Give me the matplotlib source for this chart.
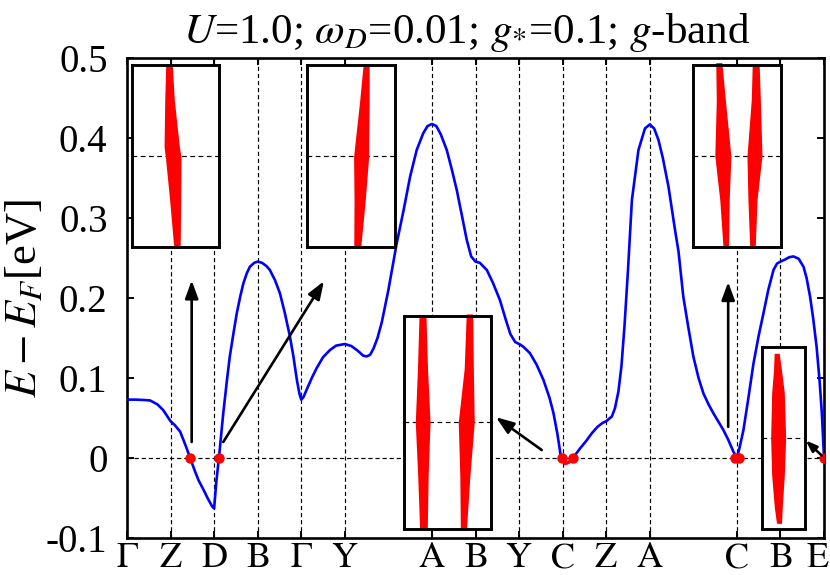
import matplotlib
matplotlib.use("Agg")
import matplotlib.pyplot as plt
from matplotlib.transforms import ScaledTranslation

plt.rcParams['font.family'] = ['Liberation Serif', 'DejaVu Serif']
plt.rcParams['mathtext.fontset'] = 'stix'
plt.rcParams['axes.unicode_minus'] = False

# --- datos: eje k (posiciones de los puntos de alta simetria) ---
tick_pos = [0, 1, 2, 3, 4, 5, 7, 8, 9, 10, 11, 12, 14, 15, 16]
tick_lab = [r'\Gamma', 'Z', 'D', 'B', r'\Gamma', 'Y', 'A', 'B', 'Y', 'C', 'Z', 'A', 'C', 'B', 'E']

# banda g
k = [0.0, 0.2, 0.4, 0.53, 0.7, 0.83, 0.95, 1.0, 1.1, 1.22, 1.35, 1.45, 1.55, 1.64,
     1.75, 1.85, 1.95, 2.0, 2.05, 2.11, 2.21, 2.3, 2.36, 2.45, 2.52, 2.6, 2.67, 2.75,
     2.82, 2.92, 3.0, 3.1, 3.2, 3.28, 3.4, 3.51, 3.62, 3.74, 3.82, 3.9, 3.96, 4.0,
     4.05, 4.12, 4.25, 4.35, 4.5, 4.66, 4.8, 4.9, 5.0, 5.15, 5.3, 5.42, 5.5, 5.58,
     5.66, 5.75, 5.85, 6.0, 6.19, 6.35, 6.5, 6.65, 6.8, 6.9, 7.0, 7.1, 7.2, 7.34,
     7.45, 7.57, 7.7, 7.8, 7.9, 8.0, 8.1, 8.26, 8.4, 8.56, 8.7, 8.8, 8.91, 9.02,
     9.1, 9.25, 9.4, 9.56, 9.7, 9.79, 9.88, 9.96, 10.0, 10.06, 10.15, 10.25, 10.4,
     10.55, 10.67, 10.8, 10.92, 11.0, 11.13, 11.2, 11.28, 11.35, 11.42, 11.5,
     11.59, 11.74, 11.89, 12.0, 12.1, 12.2, 12.3, 12.43, 12.58, 12.66, 12.77,
     12.88, 13.0, 13.12, 13.23, 13.35, 13.46, 13.58, 13.69, 13.8, 13.92, 14.0,
     14.07, 14.15, 14.25, 14.38, 14.5, 14.61, 14.72, 14.84, 14.92, 15.0, 15.1,
     15.2, 15.3, 15.42, 15.53, 15.6, 15.68, 15.75, 15.83, 15.9, 15.95, 16.0]
E = [0.073, 0.073, 0.0725, 0.072, 0.067, 0.06, 0.05, 0.046, 0.041, 0.033, 0.015,
     0.0, -0.015, -0.0275, -0.039, -0.05, -0.06, -0.063, -0.03, 0.0, 0.056, 0.10,
     0.127, 0.158, 0.181, 0.202, 0.218, 0.231, 0.239, 0.244, 0.2455, 0.244, 0.24,
     0.235, 0.222, 0.206, 0.182, 0.152, 0.127, 0.0975, 0.08, 0.073, 0.076, 0.085,
     0.101, 0.112, 0.126, 0.135, 0.1405, 0.1415, 0.1425, 0.140, 0.134, 0.128,
     0.127, 0.129, 0.137, 0.15, 0.17, 0.21, 0.268, 0.31, 0.352, 0.385, 0.406,
     0.415, 0.4175, 0.415, 0.405, 0.385, 0.362, 0.335, 0.30, 0.2725, 0.252,
     0.2455, 0.244, 0.235, 0.219, 0.1975, 0.172, 0.155, 0.145, 0.142, 0.139,
     0.131, 0.117, 0.0975, 0.075, 0.056, 0.03, 0.0016, -0.003, -0.007, -0.005,
     0.001, 0.012, 0.022, 0.031, 0.039, 0.044, 0.046, 0.052, 0.062, 0.083, 0.115,
     0.165, 0.235, 0.3225, 0.385, 0.412, 0.417, 0.412, 0.3975, 0.375, 0.339,
     0.285, 0.258, 0.2016, 0.165, 0.127, 0.1, 0.081, 0.067, 0.056, 0.045, 0.035,
     0.023, 0.008, 0.0, 0.015, 0.035, 0.07, 0.118, 0.153, 0.181, 0.21, 0.235,
     0.243, 0.2455, 0.248, 0.251, 0.252, 0.249, 0.239, 0.225, 0.2016, 0.175,
     0.139, 0.095, 0.056, 0.0]

# tramo de la banda pegado al nivel de Fermi en C (en rojo)
tramo_rojo = (9.95, 10.26)

# cruces con el nivel de Fermi
cruce_k = [1.45, 2.11, 9.98, 10.23, 13.96, 14.04, 16.0]
cruce_E = [0, 0, 0, 0, 0, 0, 0]

# flechas: (cola_k, cola_E, punta_k, punta_E)
flechas = [
    (1.485, 0.020, 1.485, 0.222),
    (2.21, 0.020, 4.52, 0.221),
    (9.52, 0.010, 8.47, 0.051),
    (13.80, 0.039, 13.80, 0.220),
    (15.95, 0.003, 15.58, 0.022),
]

# recuadros: posicion en fraccion de figura y bandas (y, centro, semiancho)
recuadro_pos = [
    [0.1594, 0.571, 0.1048, 0.316],
    [0.3702, 0.571, 0.1057, 0.316],
    [0.4867, 0.080, 0.1048, 0.371],
    [0.8353, 0.571, 0.1053, 0.316],
    [0.9177, 0.080, 0.0522, 0.316],
]
banda_y = [
    [[1.0, 0.807, 0.55, 0.495, 0.257, -0.01]],
    [[1.0, 0.807, 0.55, 0.495, 0.257, 0.0]],
    [[1.0, 0.75, 0.5, 0.25, 0.0], [1.008, 0.75, 0.5, 0.25, -0.005]],
    [[1.013, 0.807, 0.5, 0.257, -0.01], [1.0, 0.807, 0.5, 0.257, -0.01]],
    [[0.967, 0.875, 0.75, 0.5, 0.3, 0.12, 0.031]],
]
banda_c = [
    [[0.422, 0.428, 0.453, 0.47, 0.493, 0.514]],
    [[0.671, 0.652, 0.62, 0.614, 0.597, 0.57]],
    [[0.213, 0.213, 0.215, 0.218, 0.224], [0.753, 0.745, 0.716, 0.70, 0.683]],
    [[0.292, 0.315, 0.338, 0.357, 0.372], [0.714, 0.715, 0.70, 0.677, 0.677]],
    [[0.346, 0.365, 0.376, 0.38, 0.376, 0.383, 0.4]],
]
banda_w = [
    [[0.038, 0.055, 0.088, 0.09, 0.064, 0.036]],
    [[0.0345, 0.054, 0.08, 0.086, 0.064, 0.04]],
    [[0.04, 0.058, 0.085, 0.06, 0.044], [0.037, 0.053, 0.092, 0.058, 0.035]],
    [[0.035, 0.052, 0.092, 0.054, 0.031], [0.04, 0.052, 0.086, 0.052, 0.031]],
    [[0.058, 0.092, 0.146, 0.173, 0.147, 0.092, 0.058]],
]

# --- figura ---
fig = plt.figure(figsize=(8.3, 5.75), dpi=100)
ax = fig.add_axes([0.153, 0.0643, 0.8398, 0.8348])

for p in tick_pos:
    ax.axvline(p, color='k', lw=0.85, ls=(0, (3.6, 2.4)), zorder=1)
ax.axhline(0, color='k', lw=0.85, ls=(0, (3.6, 2.4)), zorder=1)

ax.plot(k, E, color='#0000ff', lw=1.9, zorder=3)
k_rojo = [kk for kk in k if tramo_rojo[0] <= kk <= tramo_rojo[1]]
E_rojo = [ee for kk, ee in zip(k, E) if tramo_rojo[0] <= kk <= tramo_rojo[1]]
ax.plot(k_rojo, E_rojo, color='#ff0000', lw=2.3, zorder=4)
ax.plot(cruce_k, cruce_E, 'o', color='#ff0000', ms=6.5, zorder=5)

for i, (x0, y0, x1, y1) in enumerate(flechas):
    ms = 11 if i == 4 else 18
    ax.annotate('', xy=(x1, y1), xytext=(x0, y0),
                arrowprops=dict(arrowstyle='-|>,head_length=0.6,head_width=0.22',
                                color='k', lw=1.9, mutation_scale=ms,
                                shrinkA=0, shrinkB=0), zorder=6)

ax.set_xlim(0, 16)
ax.set_ylim(-0.1, 0.5)
ax.set_xticks(tick_pos)
# en mathtext la caja del texto se ajusta a los glifos
ax.set_xticklabels([r'$\mathrm{%s}$' % t for t in tick_lab])
ax.set_yticks([-0.1, 0, 0.1, 0.2, 0.3, 0.4, 0.5])
ax.set_yticklabels(['-0.1', '0', '0.1', '0.2', '0.3', '0.4', '0.5'])
ax.tick_params(direction='in', top=True, right=True, length=5, width=1.4,
               labelsize=28)
ax.tick_params(axis='x', pad=3, labelsize=26)
ax.tick_params(axis='y', pad=14)
for s in ax.spines.values():
    s.set_linewidth(1.9)

# la E final se corre un poco a la izquierda para que no se corte
ultima = ax.get_xticklabels()[-1]
ultima.set_transform(ultima.get_transform() + ScaledTranslation(-0.06, 0, fig.dpi_scale_trans))

ax.set_ylabel(r'$E-E_F$[eV]', fontsize=32, labelpad=1)
ax.set_title(r'$U$=1.0; $\omega_D$=0.01; $g_{*}$=0.1; $g$-band', fontsize=31,
             pad=11, x=0.487)

# --- recuadros con las bandas gordas ---
for pos, ys, cs, ws in zip(recuadro_pos, banda_y, banda_c, banda_w):
    ins = fig.add_axes(pos)
    ins.set_xlim(0, 1)
    ins.set_ylim(0, 1)
    ins.set_xticks([])
    ins.set_yticks([])
    for s in ins.spines.values():
        s.set_linewidth(2.1)
    ins.axhline(0.5, color='k', lw=0.85, ls=(0, (4, 3)), zorder=1)
    for yy, cc, ww in zip(ys, cs, ws):
        izq = [c - w for c, w in zip(cc, ww)]
        der = [c + w for c, w in zip(cc, ww)]
        ins.fill_betweenx(yy, izq, der, color='#ff0000', lw=0, zorder=2,
                          clip_on=False)

fig.savefig('out.png', dpi=100)
